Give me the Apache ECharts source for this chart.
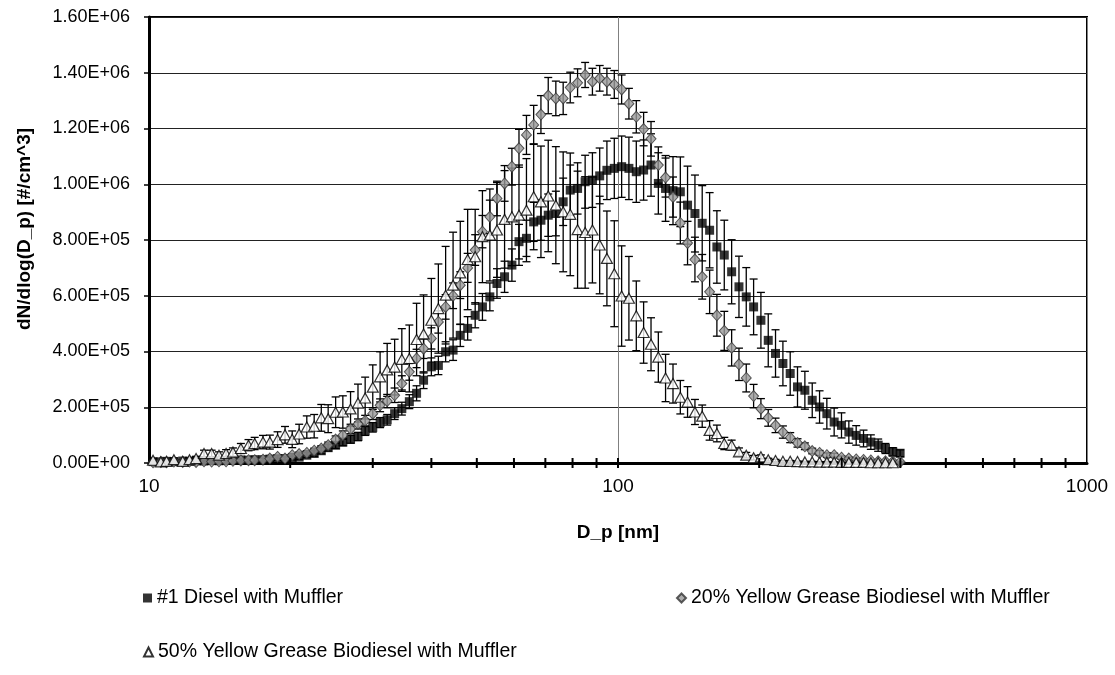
<!DOCTYPE html>
<html>
<head>
<meta charset="utf-8">
<script src="https://cdn.jsdelivr.net/npm/echarts@6/dist/echarts.min.js"></script>
<style>html,body{margin:0;padding:0;background:#fff}#main{width:1115px;height:675px}</style>
</head>
<body>
<div id="main"></div>
<script>
// particle diameter, SMPS channel midpoints [nm]
var diam = [10.2, 10.6, 10.9, 11.3, 11.8, 12.2, 12.6, 13.1, 13.6, 14.1,
  14.6, 15.1, 15.7, 16.3, 16.8, 17.5, 18.1, 18.8, 19.5, 20.2,
  20.9, 21.7, 22.5, 23.3, 24.1, 25.0, 25.9, 26.9, 27.9, 28.9,
  30.0, 31.1, 32.2, 33.4, 34.6, 35.9, 37.2, 38.5, 40.0, 41.4,
  42.9, 44.5, 46.1, 47.8, 49.6, 51.4, 53.3, 55.2, 57.3, 59.4,
  61.5, 63.8, 66.1, 68.5, 71.0, 73.7, 76.4, 79.1, 82.0, 85.1,
  88.2, 91.4, 94.7, 98.2, 101.8, 105.5, 109.4, 113.4, 117.6, 121.9,
  126.3, 131.0, 135.8, 140.7, 145.9, 151.2, 156.8, 162.5, 168.5, 174.7,
  181.1, 187.7, 194.6, 201.7, 209.1, 216.7, 224.7, 232.9, 241.4, 250.3,
  259.5, 269.0, 278.8, 289.0, 299.6, 310.6, 322.0, 333.8, 346.0, 358.7,
  371.8, 385.4, 399.5];

// dN/dlog(Dp), all in thousands of #/cm^3
var diesel = [5, 4, 6, 5, 7, 6, 8, 7, 9, 8,
  10, 9, 11, 10, 12, 12, 14, 15, 16, 18,
  21, 28, 34, 44, 55, 64, 75, 85, 95, 115,
  128, 145, 155, 177, 195, 220, 250, 297, 345, 350,
  399, 405, 458, 483, 530, 560, 596, 644, 668, 710,
  794, 806, 865, 871, 889, 895, 937, 979, 985, 1009,
  1015, 1030, 1050, 1057, 1063, 1057, 1045, 1051, 1069, 1003,
  985, 977, 973, 925, 895, 860, 835, 775, 746, 686,
  632, 596, 560, 512, 440, 393, 357, 321, 273, 261,
  225, 201, 177, 147, 135, 111, 99, 88, 75, 64,
  52, 40, 35];
var dieselErr = [3, 3, 3, 3, 4, 3, 4, 4, 4, 4,
  5, 4, 5, 5, 5, 5, 6, 6, 6, 7,
  8, 9, 10, 11, 12, 12, 13, 14, 15, 16,
  17, 18, 19, 21, 23, 25, 27, 30, 32, 33,
  36, 37, 40, 42, 45, 48, 50, 53, 56, 58,
  62, 65, 70, 72, 76, 80, 85, 90, 92, 95,
  98, 100, 105, 108, 110, 112, 110, 108, 112, 110,
  118, 122, 125, 140, 138, 135, 135, 130, 125, 115,
  110, 105, 100, 100, 95, 85, 80, 78, 72, 68,
  62, 58, 55, 50, 45, 40, 35, 30, 26, 22,
  18, 15, 12];

var yg20 = [3, 4, 3, 5, 4, 5, 4, 6, 5, 6,
  6, 8, 9, 10, 10, 12, 16, 22, 16, 28,
  32, 36, 44, 52, 64, 84, 100, 122, 140, 152,
  177, 207, 222, 243, 285, 327, 375, 410, 447, 506,
  560, 600, 638, 700, 764, 830, 883, 949, 1003, 1063,
  1129, 1177, 1213, 1250, 1318, 1308, 1308, 1347, 1364, 1392,
  1368, 1380, 1368, 1358, 1340, 1289, 1242, 1198, 1163, 1069,
  1024, 954, 861, 789, 730, 668, 614, 530, 474, 413,
  354, 305, 240, 195, 162, 135, 111, 91, 72, 60,
  43, 36, 28, 28, 19, 16, 13, 11, 9, 6,
  6, 5, 4];
var yg20Err = [2, 2, 2, 3, 2, 3, 2, 3, 3, 3,
  3, 4, 4, 4, 4, 5, 5, 6, 5, 6,
  7, 8, 9, 10, 11, 13, 15, 17, 18, 19,
  21, 23, 24, 26, 28, 30, 33, 35, 38, 40,
  44, 46, 48, 52, 55, 58, 60, 62, 64, 66,
  68, 70, 70, 68, 65, 62, 58, 55, 50, 45,
  48, 46, 48, 50, 52, 55, 58, 60, 62, 65,
  70, 72, 75, 78, 80, 80, 78, 75, 70, 65,
  58, 50, 42, 36, 30, 26, 22, 18, 15, 12,
  10, 9, 8, 7, 6, 5, 4, 4, 3, 3,
  2, 2, 2];

var yg50 = [10, 4, 6, 12, 6, 12, 16, 34, 34, 28,
  34, 39, 52, 64, 70, 75, 75, 84, 101, 85,
  104, 129, 132, 162, 159, 182, 183, 194, 215, 233,
  272, 309, 334, 344, 372, 375, 443, 463, 512, 554,
  602, 638, 682, 730, 740, 812, 818, 836, 874, 883,
  889, 907, 955, 937, 958, 925, 901, 892, 837, 827,
  836, 782, 734, 679, 599, 591, 528, 468, 426, 380,
  305, 285, 236, 219, 183, 168, 117, 106, 70, 64,
  40, 28, 19, 22, 12, 9, 6, 6, 5, 4,
  4, 3, 3, 3, 2, 2, 2, 2, 1, 1,
  1, 1];
var yg50Err = [5, 4, 5, 6, 5, 6, 8, 12, 12, 12,
  14, 15, 18, 20, 22, 24, 25, 28, 30, 30,
  35, 40, 42, 48, 50, 55, 58, 62, 68, 75,
  80, 90, 95, 100, 110, 120, 130, 140, 150, 160,
  175, 190, 185, 180, 170, 165, 165, 170, 175, 175,
  180, 185, 190, 200, 200, 210, 215, 220, 210, 200,
  190, 175, 170, 190, 180, 150, 125, 110, 95, 90,
  85, 70, 60, 55, 45, 40, 35, 30, 22, 18,
  14, 10, 8, 7, 5, 4, 3, 3, 2, 2,
  2, 2, 2, 1, 1, 1, 1, 1, 1, 1,
  1, 1];

var names = ['#1 Diesel with Muffler', '20% Yellow Grease Biodiesel with Muffler', '50% Yellow Grease Biodiesel with Muffler'];
// ticks drawn across the x axis line (excel style)
var xTickVals = [20, 30, 40, 50, 60, 70, 80, 90, 100, 200, 300, 400, 500, 600, 700, 800, 900];

var font = '"Liberation Sans", Arial, sans-serif';

function sci(v) {
    if (v === 0) return '0.00E+00';
    var e = Math.floor(Math.log10(v) + 1e-9);
    var m = v / Math.pow(10, e);
    return m.toFixed(2) + 'E+' + (e < 10 ? '0' : '') + e;
}

function pts(vals) {
    var out = [];
    for (var i = 0; i < vals.length; i++) out.push([diam[i], vals[i] * 1000]);
    return out;
}

function errSeries(vals, errs) {
    var data = [];
    for (var i = 0; i < vals.length; i++) data.push([diam[i], vals[i] * 1000, errs[i] * 1000]);
    return {
        type: 'custom',
        silent: true,
        encode: {x: 0, y: 1},
        renderItem: function (params, api) {
            var x = api.value(0), y = api.value(1), e = api.value(2);
            var hi = api.coord([x, y + e]), lo = api.coord([x, y - e]);
            var w = 4, st = {stroke: '#000', lineWidth: 1.3};
            return {type: 'group', children: [
                {type: 'line', shape: {x1: hi[0], y1: hi[1], x2: lo[0], y2: lo[1]}, style: st},
                {type: 'line', shape: {x1: hi[0] - w, y1: hi[1], x2: hi[0] + w, y2: hi[1]}, style: st},
                {type: 'line', shape: {x1: lo[0] - w, y1: lo[1], x2: lo[0] + w, y2: lo[1]}, style: st}
            ]};
        },
        data: data
    };
}

var myChart = echarts.init(document.getElementById('main'));

var option = {
    animation: false,
    backgroundColor: '#fff',
    grid: {
        left: 149, right: 28, top: 17, bottom: 212,
        show: true, borderColor: '#000', borderWidth: 2
    },
    legend: [
        {data: [names[0]], left: 138, top: 583},
        {data: [names[1]], left: 671, top: 583},
        {data: [names[2]], left: 138, top: 637}
    ].map(function (l) {
        l.itemWidth = 9; l.itemHeight = 9; l.itemGap = 4;
        l.textStyle = {color: '#000', fontSize: 19.5, fontFamily: font};
        return l;
    }),
    xAxis: {
        type: 'log', logBase: 10, min: 10, max: 1000,
        name: 'D_p [nm]', nameLocation: 'middle', nameGap: 60,
        nameTextStyle: {color: '#000', fontSize: 19, fontWeight: 'bold', fontFamily: font},
        axisLine: {lineStyle: {color: '#000', width: 3}},
        axisTick: {show: false},
        axisLabel: {color: '#000', fontSize: 19, fontFamily: font, margin: 14,
            formatter: function (v) { return String(Math.round(v)); }},
        splitLine: {show: true, lineStyle: {color: '#808080', width: 1}}
    },
    yAxis: {
        type: 'value', min: 0, max: 1600000, interval: 200000,
        name: 'dN/dlog(D_p) [#/cm^3]', nameLocation: 'middle', nameGap: 115, nameRotate: 90,
        nameTextStyle: {color: '#000', fontSize: 19, fontWeight: 'bold', fontFamily: font,
            padding: [0, 0, 0, 22]},
        axisLine: {lineStyle: {color: '#000', width: 3}},
        axisTick: {show: true, length: 5, lineStyle: {color: '#000', width: 1.5}},
        axisLabel: {color: '#000', fontSize: 18, fontFamily: font, margin: 19, formatter: sci},
        splitLine: {show: true, lineStyle: {color: '#222', width: 1}}
    },
    series: [
        errSeries(diesel, dieselErr),
        {
            name: names[0], type: 'scatter', symbol: 'rect', symbolSize: 9,
            itemStyle: {color: '#000'},
            data: pts(diesel)
        },
        errSeries(yg20, yg20Err),
        {
            name: names[1], type: 'scatter', symbol: 'diamond', symbolSize: [10, 11],
            itemStyle: {color: '#999', borderColor: '#333', borderWidth: 1},
            data: pts(yg20)
        },
        errSeries(yg50, yg50Err),
        {
            name: names[2], type: 'scatter', symbol: 'triangle', symbolSize: [11, 10],
            itemStyle: {color: '#fff', borderColor: '#000', borderWidth: 1.2},
            data: pts(yg50)
        },
        {
            type: 'custom', silent: true, z: 5, clip: false,
            encode: {x: 0, y: 1},
            renderItem: function (params, api) {
                var p = api.coord([api.value(0), 0]);
                return {type: 'line', shape: {x1: p[0], y1: p[1] - 5, x2: p[0], y2: p[1] + 5},
                    style: {stroke: '#000', lineWidth: 2}};
            },
            data: xTickVals.map(function (v) { return [v, 0]; })
        }
    ]
};
myChart.setOption(option);
</script>
</body>
</html>
